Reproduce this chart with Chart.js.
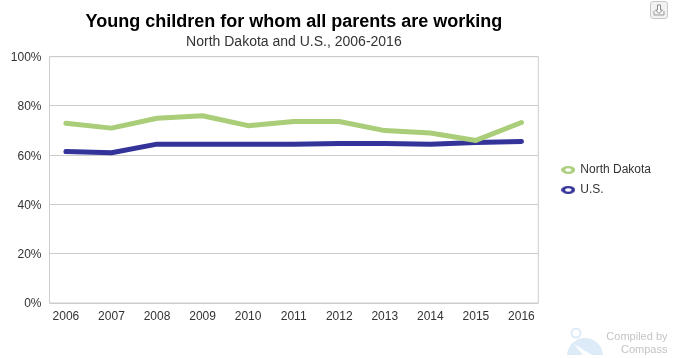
<!DOCTYPE html>
<html><head><meta charset="utf-8">
<script src="https://cdn.jsdelivr.net/npm/chart.js@4"></script>
<style>
html,body{margin:0;padding:0;background:#fff;overflow:hidden}
#w{position:relative;width:688px;height:358px;overflow:hidden}
canvas{position:absolute;left:0;top:0}
#credit{position:absolute;left:590px;top:330px;width:77.5px;text-align:right;font:11px/12.5px "Liberation Sans",Arial,sans-serif;color:#c4c4c4}
#logo{position:absolute;left:566px;top:327px}
#dl{position:absolute;left:650px;top:1px}
</style></head><body>
<div id="w">
<canvas id="c" width="688" height="358"></canvas>
<svg id="logo" width="44" height="28" viewBox="0 0 44 28"><circle cx="10" cy="6" r="4.5" fill="none" stroke="#dcebf7" stroke-width="2"/><circle cx="19" cy="29" r="18" fill="#dcebf7"/><path d="M8 17 L26 28 L17 28Z" fill="#fff"/></svg>
<div id="credit">Compiled by Compass</div>
<svg id="dl" width="18" height="18" viewBox="0 0 18 18"><rect x=".5" y=".5" width="17" height="17" rx="2.5" fill="#f2f2f2" stroke="#c8c8c8"/><path d="M4 10v4h10v-4" fill="none" stroke="#999"/><path d="M7.5 4h3v5h2L9 12.5 5.5 9h2z" fill="#fff" stroke="#888"/></svg>
</div>
<script>
const categories=["2006","2007","2008","2009","2010","2011","2012","2013","2014","2015","2016"];
const northDakota=[73,71,75,76,72,73.7,73.7,70,69,66,73.3];
const us=[61.5,61,64.5,64.5,64.5,64.5,64.8,64.8,64.5,65.2,65.6];
const yTicks=[0,20,40,60,80,100];
const titleText="Young children for whom all parents are working";
const subtitleText="North Dakota and U.S., 2006-2016";
const GREEN="#a9cd78",BLUE="#333399",FONT='"Liberation Sans",Arial,sans-serif',GRID="#cccccc";
function marker(col){
  const k=document.createElement('canvas');k.width=14;k.height=8;
  const g=k.getContext('2d');
  g.fillStyle=col;g.beginPath();g.ellipse(7,4,7,4,0,0,7);g.fill();
  g.fillStyle='#fff';g.beginPath();g.ellipse(7,4,3.2,1.8,0,0,7);g.fill();
  return k;
}
const pts=a=>a.map((v,i)=>({x:+categories[i],y:v}));
const frame={id:'frame',beforeDatasetsDraw(ch){
  const a=ch.chartArea,g=ch.ctx;g.save();g.strokeStyle=GRID;g.lineWidth=1;
  g.strokeRect(a.left,a.top,a.right-a.left,a.bottom-a.top);g.restore();
}};
const legendMarkers=[marker(GREEN),marker(BLUE)];
new Chart(document.getElementById('c'),{
  type:'line',
  plugins:[frame],
  data:{datasets:[
    {label:"North Dakota",data:pts(northDakota),borderColor:GREEN,backgroundColor:GREEN,borderWidth:5,pointRadius:0,tension:0,borderCapStyle:'round',borderJoinStyle:'round',pointStyle:legendMarkers[0]},
    {label:"U.S.",data:pts(us),borderColor:BLUE,backgroundColor:BLUE,borderWidth:5,pointRadius:0,tension:0,borderCapStyle:'round',borderJoinStyle:'round',pointStyle:legendMarkers[1]}
  ]},
  options:{
    responsive:false,animation:false,
    layout:{padding:{left:0,right:27,top:12,bottom:0}},
    plugins:{
      tooltip:{enabled:false},
      title:{display:true,text:titleText,fullSize:false,color:'#000',font:{family:FONT,size:18,weight:'bold',lineHeight:1.1},padding:{top:0,bottom:2}},
      subtitle:{display:true,text:subtitleText,fullSize:false,color:'#333',font:{family:FONT,size:14,weight:'normal',lineHeight:1.1},padding:{top:1,bottom:6.5}},
      legend:{position:'right',fullSize:false,
        labels:{usePointStyle:true,boxWidth:14,boxHeight:8,padding:8,color:'#333',font:{family:FONT,size:12}}}
    },
    scales:{
      x:{type:'linear',min:2005.64,max:2016.37,
        afterBuildTicks(s){s.ticks=categories.map(c=>({value:+c}));},
        afterFit(s){s.height=55;},
        border:{display:false},grid:{display:false},
        ticks:{autoSkip:false,maxRotation:0,color:'#333',font:{family:FONT,size:12},padding:-2,callback:v=>String(v)}},
      y:{min:0,max:100,
        afterBuildTicks(s){s.ticks=yTicks.map(v=>({value:v}));},
        afterFit(s){s.width=49.5;},
        border:{display:false},grid:{color:GRID,lineWidth:1,drawTicks:false},
        ticks:{color:'#333',font:{family:FONT,size:12},padding:8,labelOffset:1,callback:v=>v+'%'}},
      spacer:{position:'right',display:true,
        afterFit(s){s.width=16;},
        border:{display:false},grid:{display:false},ticks:{display:false}}
    }
  }
});
</script>
</body></html>
